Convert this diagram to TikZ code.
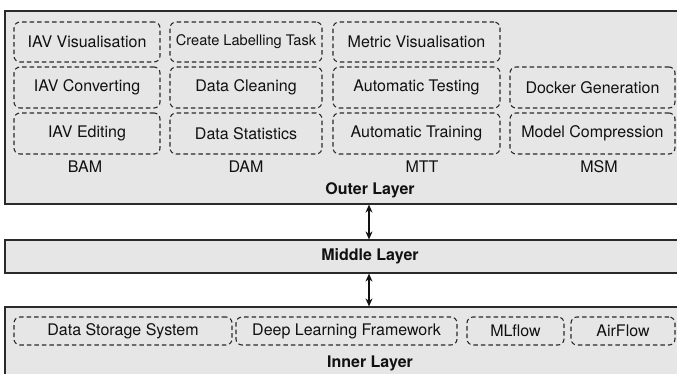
\documentclass[tikz,border=0pt]{standalone}
\usepackage{fontspec}
\setmainfont{TeX Gyre Heros}
\usetikzlibrary{arrows.meta}
\definecolor{layerfill}{HTML}{E6E6E6}
\definecolor{edge}{HTML}{2A2A2A}
\definecolor{ink}{HTML}{111111}
\tikzset{
  layer/.style={draw=edge, line width=1.2pt, fill=layerfill, inner sep=0pt},
  dbox/.style={draw=edge, dashed, dash pattern=on 4.5pt off 3pt, line width=1.1pt,
    rounded corners=6pt, inner sep=0pt, text=ink, font=\fontsize{16}{19}\selectfont},
  colname/.style={text=ink, font=\fontsize{16}{19}\selectfont},
  layername/.style={text=ink, font=\fontsize{16}{19}\selectfont\bfseries},
  link/.style={draw=ink, line width=1.2pt, {Stealth[length=8pt,width=7pt]}-{Stealth[length=8pt,width=7pt]}}
}
\begin{document}
\begin{tikzpicture}[x=1pt,y=-1pt]
\useasboundingbox (0,0) rectangle (677,373);

% three layers
\node[layer, minimum width=677pt, minimum height=193pt] (outer) at (343.5,107.5) {};
\node[layer, minimum width=677pt, minimum height=33pt] (middle) at (343.5,256.5) {};
\node[layer, minimum width=677pt, minimum height=73pt] (inner) at (343.5,343.5) {};

% outer layer: BAM column
\node[dbox, minimum width=146pt, minimum height=40pt] (bam1) at (87,42) {IAV Visualisation};
\node[dbox, minimum width=146pt, minimum height=41pt] (bam2) at (87,87.5) {IAV Converting};
\node[dbox, minimum width=146pt, minimum height=41pt] (bam3) at (87,133.5) {IAV Editing};
% DAM column
\node[dbox, minimum width=152pt, minimum height=40pt, font=\fontsize{14.6}{17}\selectfont] (dam1) at (246,42) {Create Labelling Task};
\node[dbox, minimum width=152pt, minimum height=41pt] (dam2) at (246,87.5) {Data Cleaning};
\node[dbox, minimum width=152pt, minimum height=41pt] (dam3) at (246,133.5) {Data Statistics};
% MTT column
\node[dbox, minimum width=167pt, minimum height=40pt] (mtt1) at (416.5,42) {Metric Visualisation};
\node[dbox, minimum width=167pt, minimum height=41pt] (mtt2) at (416.5,87.5) {Automatic Testing};
\node[dbox, minimum width=167pt, minimum height=41pt] (mtt3) at (416.5,133.5) {Automatic Training};
% MSM column
\node[dbox, minimum width=165pt, minimum height=41pt] (msm2) at (592.5,87.5) {Docker Generation};
\node[dbox, minimum width=165pt, minimum height=41pt] (msm3) at (592.5,133.5) {Model Compression};

% column names
\node[colname] (bam) at (85,167) {BAM};
\node[colname] (dam) at (246,167) {DAM};
\node[colname] (mtt) at (422,167) {MTT};
\node[colname] (msm) at (599,167) {MSM};

% layer names
\node[layername] (outername) at (370,190) {Outer Layer};
\node[layername] (middlename) at (370,256.5) {Middle Layer};
\node[layername] (innername) at (370,363) {Inner Layer};

% inner layer components
\node[dbox, minimum width=218pt, minimum height=28pt] (dss) at (123,331) {Data Storage System};
\node[dbox, minimum width=221pt, minimum height=28pt] (dlf) at (346.5,331) {Deep Learning Framework};
\node[dbox, minimum width=97pt, minimum height=28pt] (mlf) at (515.5,331) {MLflow};
\node[dbox, minimum width=104pt, minimum height=28pt] (afl) at (623,331) {AirFlow};

% links between layers
\coordinate (ax) at (369,0);
\draw[link] (outer.south -| ax) -- (middle.north -| ax);
\draw[link] (middle.south -| ax) -- (inner.north -| ax);
\end{tikzpicture}
\end{document}
